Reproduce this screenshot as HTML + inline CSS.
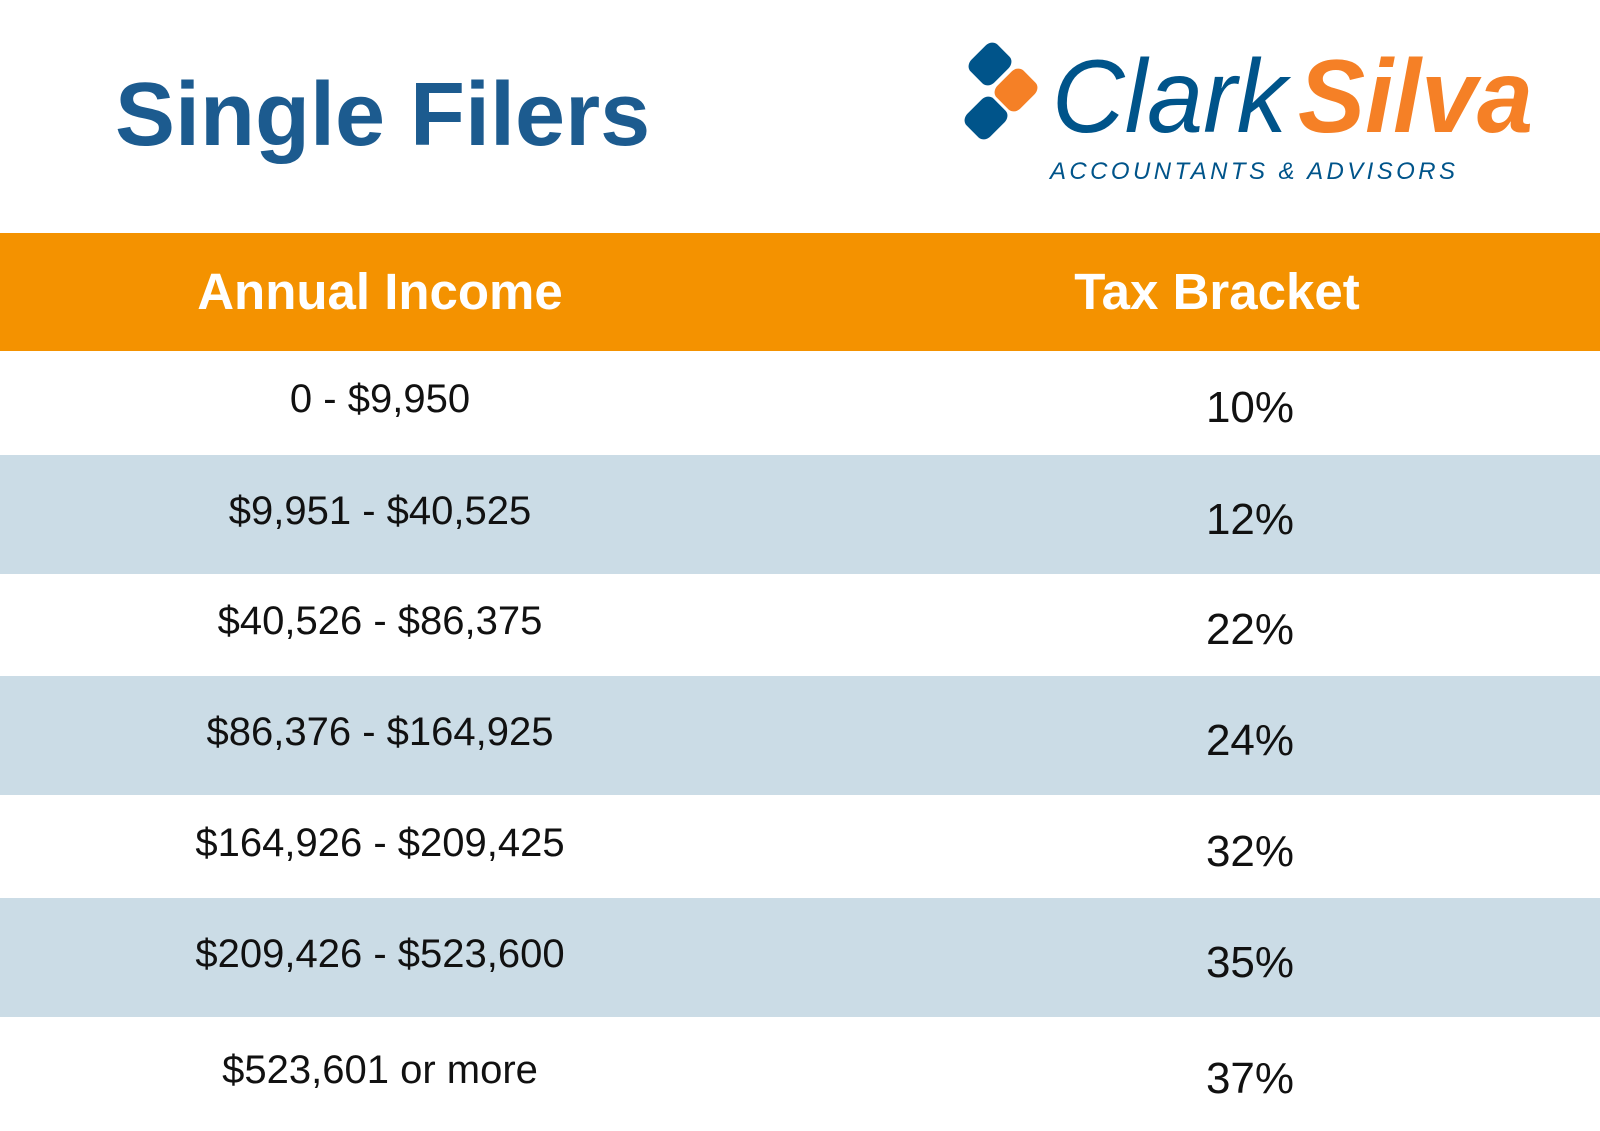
<!DOCTYPE html>
<html><head><meta charset="utf-8"><style>
html,body{margin:0;padding:0;background:#fff;}
#root{position:relative;width:1600px;height:1131px;overflow:hidden;font-family:"Liberation Sans",sans-serif;}
.abs{position:absolute;}
.title{left:115px;top:64px;font-size:90px;font-weight:bold;color:#1c5b8f;letter-spacing:0px;}
.band{left:0;width:1600px;}
.hdr{top:233px;height:118px;background:#f49200;}
.htxt{color:#fff;font-weight:bold;font-size:51px;transform:translateX(-50%);white-space:nowrap;top:262px;}
.cell{transform:translateX(-50%);white-space:nowrap;color:#111;}
</style></head><body>
<div id="root">
<div class="abs title">Single Filers</div>
<svg class="abs" style="left:960px;top:40px" width="640" height="150">
  <rect x="-19" y="-19" width="38" height="38" rx="9" transform="translate(30,24) rotate(45) scale(0.85,1)" fill="#00548a"/>
  <rect x="-19" y="-19" width="38" height="38" rx="9" transform="translate(56,50) rotate(45) scale(0.85,1)" fill="#f58026"/>
  <rect x="-19" y="-19" width="38" height="38" rx="9" transform="translate(26,78) rotate(45) scale(0.85,1)" fill="#00548a"/>
  <text x="92" y="92" font-family="Liberation Sans" font-style="italic" font-size="104" fill="#00548a" textLength="235" lengthAdjust="spacingAndGlyphs">Clark</text>
  <text x="338" y="92" font-family="Liberation Sans" font-style="italic" font-weight="bold" font-size="104" fill="#f58026" textLength="235" lengthAdjust="spacingAndGlyphs">Silva</text>
  <text x="90" y="139" font-family="Liberation Sans" font-style="italic" font-size="24" fill="#00548a" textLength="405" lengthAdjust="spacing">ACCOUNTANTS &amp; ADVISORS</text>
</svg>
<div class="abs band hdr"></div>
<div class="abs htxt" style="left:380px">Annual Income</div>
<div class="abs htxt" style="left:1217px">Tax Bracket</div>
</div>
<script>
const incomes = ["0 - $9,950","$9,951 - $40,525","$40,526 - $86,375","$86,376 - $164,925","$164,926 - $209,425","$209,426 - $523,600","$523,601 or more"];
const rates = ["10%","12%","22%","24%","32%","35%","37%"];
const rowTops = [351,455,574,676,795,898,1017,1131];
const root = document.getElementById('root');
for (let i = 0; i < incomes.length; i++) {
  const top = rowTops[i], h = rowTops[i+1] - top, mid = top + h/2;
  const row = document.createElement('div');
  row.className = 'abs band';
  row.style.top = top + 'px'; row.style.height = h + 'px';
  row.style.background = (i % 2 === 1) ? '#cbdce6' : '#fff';
  
  
  root.appendChild(row);
  const a = document.createElement('div');
  a.className = 'abs cell'; a.textContent = incomes[i];
  a.style.left = '380px'; a.style.fontSize = '40px'; a.style.top = (mid - 26) + 'px';
  
  
  root.appendChild(a);
  const b = document.createElement('div');
  b.className = 'abs cell'; b.textContent = rates[i];
  b.style.left = '1250px'; b.style.fontSize = '44px'; b.style.top = (mid - 20) + 'px';
  
  
  root.appendChild(b);
}
</script>
</body></html>
